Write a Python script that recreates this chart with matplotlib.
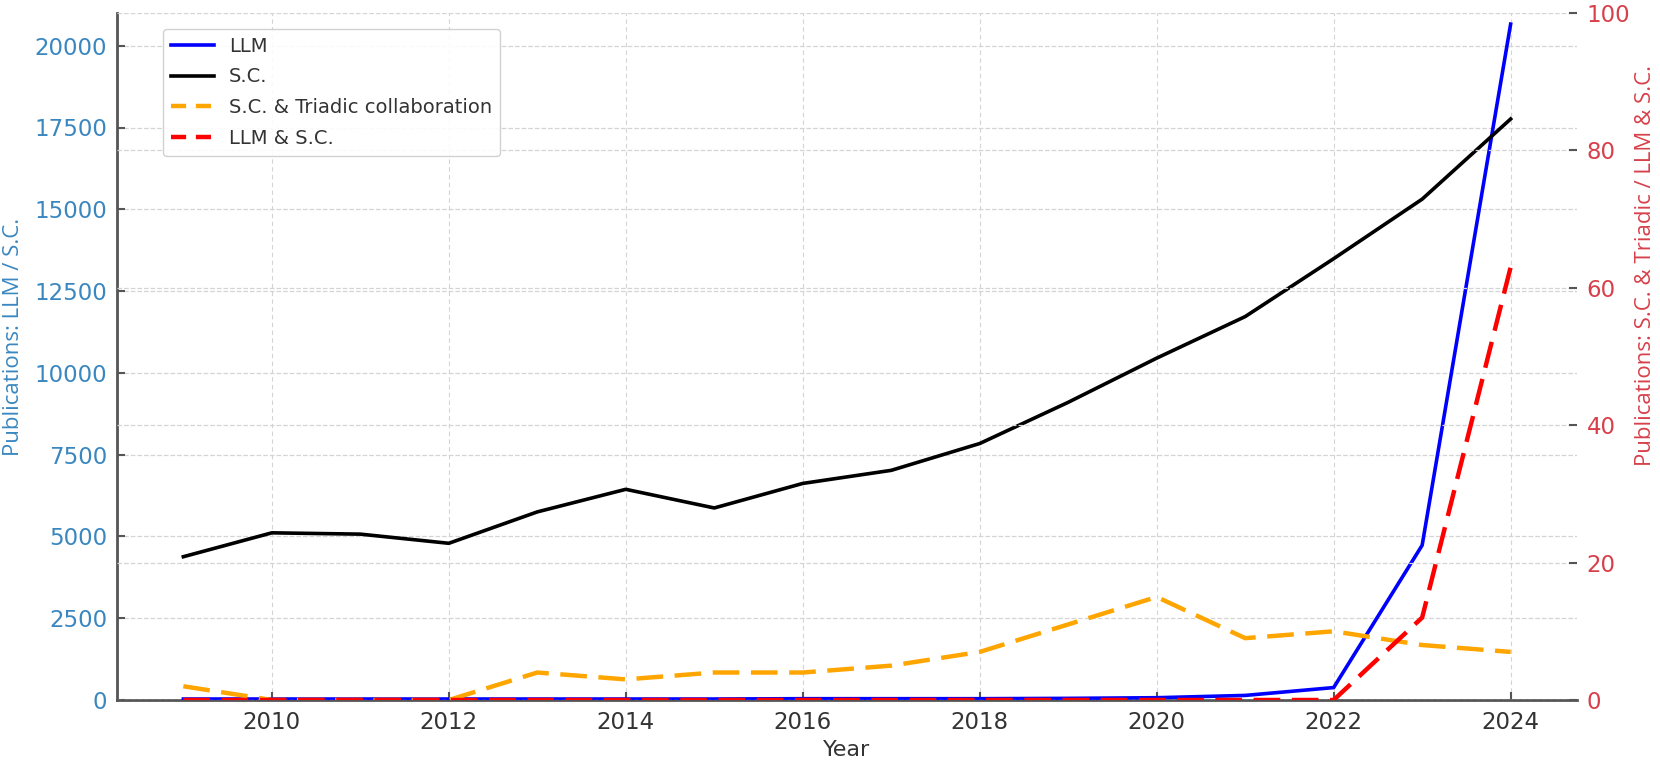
import matplotlib
matplotlib.use("Agg")
import matplotlib.pyplot as plt

years = list(range(2009, 2025))
llm = [30, 30, 30, 30, 30, 30, 30, 40, 40, 40, 50, 70, 140, 380, 4730, 20660]
sc = [4380, 5110, 5070, 4790, 5750, 6440, 5870, 6620, 7020, 7840, 9100, 10450, 11720, 13490, 15310, 17760]
sc_triadic = [2, 0, 0, 0, 4, 3, 4, 4, 5, 7, 11, 15, 9, 10, 8, 7]
llm_sc = [0, 0, 0, 0, 0, 0, 0, 0, 0, 0, 0, 0, 0, 0, 12, 63]

label_left = "Publications: LLM / S.C."
label_right = "Publications: S.C. & Triadic / LLM & S.C."
xlabel = "Year"

BLUE_TXT = "#3a87c0"
RED_TXT = "#d7404a"
SPINE = "#555555"
TICKTXT = "#333333"
GRID = "#d4d4d4"

plt.rcParams["font.family"] = ["DejaVu Sans"]

fig = plt.figure(figsize=(16.6, 7.62), dpi=100)
ax = fig.add_axes([117 / 1660, 62 / 762, 1460 / 1660, 687 / 762])
ax2 = ax.twinx()

l1, = ax.plot(years, llm, color="blue", lw=2.6, label="LLM", zorder=3)
l2, = ax.plot(years, sc, color="black", lw=2.6, label="S.C.", zorder=3)
l3, = ax2.plot(years, sc_triadic, color="orange", lw=3.2, dashes=(6, 2.6),
               label="S.C. & Triadic collaboration", zorder=3)
l4, = ax2.plot(years, llm_sc, color="red", lw=3.2, dashes=(6, 2.6),
               label="LLM & S.C.", zorder=3)

ax.set_ylim(0, 21000)
ax2.set_ylim(0, 100)
ax.set_xticks(range(2010, 2025, 2))
ax.set_yticks(range(0, 20001, 2500))
ax2.set_yticks(range(0, 101, 20))

for a in (ax, ax2):
    for s in ("top", "right"):
        a.spines[s].set_visible(False)
ax2.spines["left"].set_visible(False)
ax2.spines["bottom"].set_visible(False)
ax.spines["left"].set_color(SPINE)
ax.spines["bottom"].set_color(SPINE)
ax.spines["left"].set_linewidth(2.0)
ax.spines["bottom"].set_linewidth(2.0)

ax.grid(True, axis="y", color=GRID, ls="--", lw=0.9)
ax.grid(True, axis="x", color=GRID, ls=(0, (4, 3)), lw=0.8)
ax2.grid(True, axis="y", color=GRID, ls="--", lw=0.9)
ax.set_axisbelow(True)

ax.tick_params(axis="x", direction="in", length=6, width=1.5, color=SPINE,
               labelsize=16.5, labelcolor=TICKTXT, pad=8)
ax.tick_params(axis="y", direction="in", length=6, width=1.5, color=SPINE,
               labelsize=16.5, labelcolor=BLUE_TXT, pad=7)
ax2.tick_params(axis="y", direction="in", length=6, width=1.5, color=SPINE,
                labelsize=16.5, labelcolor=RED_TXT, pad=7)

ax.set_xlabel(xlabel, fontsize=16, color=TICKTXT)
ax.set_ylabel(label_left, fontsize=16, color=BLUE_TXT, family=["Open Sans", "DejaVu Sans"], va="center")
ax.yaxis.set_label_coords(-0.0712, 0.528)
ax2.set_ylabel(label_right, fontsize=16, color=RED_TXT, family=["Open Sans", "DejaVu Sans"], va="center")
ax2.yaxis.set_label_coords(1.0466, 0.632)

leg = ax2.legend(handles=[l1, l2, l3, l4], loc="upper left",
                 bbox_to_anchor=(46 / 1460, 1 - 16 / 687), borderaxespad=0,
                 fontsize=14, handlelength=2.2, labelspacing=0.6,
                 framealpha=0.9, edgecolor="#cccccc", fancybox=True)
for t in leg.get_texts():
    t.set_color(TICKTXT)
for ln in leg.get_lines()[2:]:
    ln.set_dashes((3.4, 2.2))

fig.savefig("out.png", dpi=100)
